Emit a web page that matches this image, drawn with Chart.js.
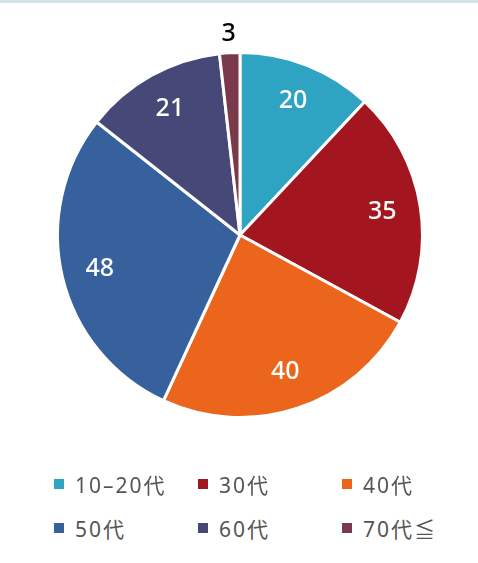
<!DOCTYPE html>
<html lang="ja">
<head>
<meta charset="UTF-8" />
<title>年代別</title>
<style>
  html, body { margin: 0; padding: 0; background: #fff; }
  body { width: 478px; height: 563px; overflow: hidden; border-top: 3px solid #d6e4ea; box-sizing: border-box; font-family: "Noto Sans", "Noto Sans CJK JP", sans-serif; }
  #wrap { position: relative; width: 478px; height: 467px; }
  .legend { position: absolute; left: 0; top: 460px; width: 478px; }
  .legend .item { position: absolute; display: flex; align-items: center; color: #555; font-size: 21px; letter-spacing: 2px; }
  .legend .box { width: 10px; height: 10px; margin-right: 11px; }
</style>
</head>
<body>
<div id="wrap"><canvas id="pie"></canvas></div>
<div class="legend" id="legend"></div>

<script src="https://cdn.jsdelivr.net/npm/chart.js"></script>
<script>
  const labels = ['10–20代', '30代', '40代', '50代', '60代', '70代≦'];
  const counts = [20, 35, 40, 48, 21, 3];
  const colors = ['#2ea4c2', '#a3161f', '#ec651d', '#37619d', '#464877', '#7b394c'];

  // numbers on the slices; the tiny one goes outside in black
  const sliceLabels = {
    id: 'sliceLabels',
    afterDatasetsDraw(chart) {
      const ctx = chart.ctx;
      const arcs = chart.getDatasetMeta(0).data;
      ctx.save();
      ctx.font = '500 25px "Noto Sans", sans-serif';
      ctx.textAlign = 'center';
      ctx.textBaseline = 'middle';
      arcs.forEach((arc, i) => {
        const mid = (arc.startAngle + arc.endAngle) / 2;
        const small = counts[i] < 5;
        const r = small ? arc.outerRadius + 19 : arc.outerRadius * 0.79;
        ctx.fillStyle = small ? '#000' : '#fff';
        ctx.fillText(String(counts[i]), arc.x + Math.cos(mid) * r, arc.y + Math.sin(mid) * r);
      });
      ctx.restore();
    }
  };

  new Chart(document.getElementById('pie'), {
    type: 'pie',
    data: {
      labels: labels,
      datasets: [{
        data: counts,
        backgroundColor: colors,
        borderColor: '#fff',
        borderWidth: 3
      }]
    },
    options: {
      responsive: true,
      maintainAspectRatio: false,
      animation: false,
      layout: { padding: { left: 56, right: 54, top: 47, bottom: 50 } },
      plugins: { legend: { display: false }, tooltip: { enabled: false } }
    },
    plugins: [sliceLabels]
  });

  // legend grid, 3 columns
  const legend = document.getElementById('legend');
  labels.forEach((name, i) => {
    const item = document.createElement('div');
    item.className = 'item';
    item.style.left = (54 + (i % 3) * 144) + 'px';
    item.style.top = (Math.floor(i / 3) * 44 + 9) + 'px';
    item.innerHTML = '<span class="box" style="background:' + colors[i] + '"></span>' + name;
    legend.appendChild(item);
  });
</script>
</body>
</html>
